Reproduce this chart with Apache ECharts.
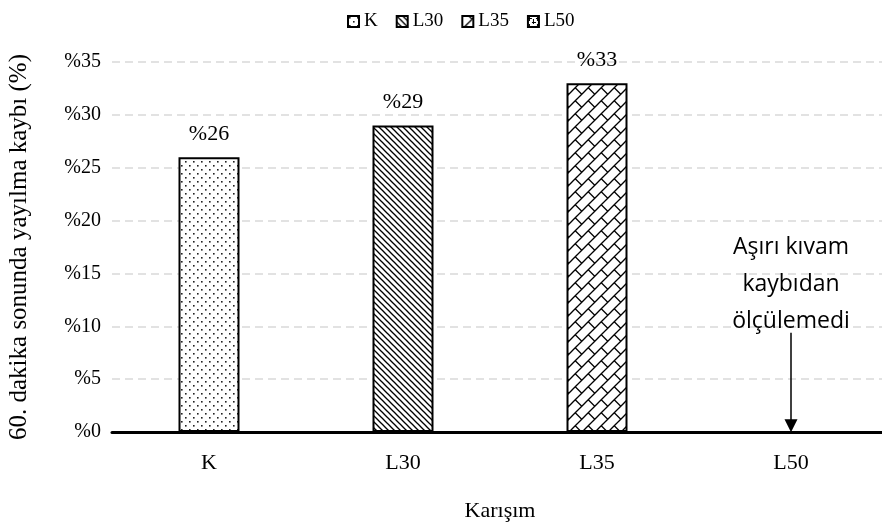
<!DOCTYPE html>
<html>
<head>
<meta charset="utf-8">
<script src="https://cdn.jsdelivr.net/npm/echarts@6/dist/echarts.min.js"></script>
<style>
  html, body { margin: 0; padding: 0; background: #fff; }
  #chart { width: 882px; height: 522px; }
</style>
</head>
<body>
<div id="chart"></div>
<script>
// Mixes and the spread loss measured after 60 minutes (%)
const categories = ['K', 'L30', 'L35', 'L50'];
const seriesNames = ['K', 'L30', 'L35', 'L50'];
const lossValues = [26, 29, 33, null];   // L50 could not be measured
const yMin = 0, yMax = 35, yStep = 5;
const noteLines = ['Aşırı kıvam', 'kaybıdan', 'ölçülemedi'];
const noteY = 14.0;          // where the note sits on the value axis
const arrowFrom = 9.4, arrowTo = 0.6;

// Fill patterns for each bar, drawn on small tiles
function tile(size, draw) {
  const c = document.createElement('canvas');
  c.width = size; c.height = size;
  const g = c.getContext('2d');
  g.fillStyle = '#fff';
  g.fillRect(0, 0, size, size);
  g.fillStyle = '#000';
  g.strokeStyle = '#000';
  draw(g, size);
  return c;
}
const patterns = {
  K: tile(8, (g) => {
    g.fillStyle = '#222';
    g.fillRect(1, 1, 1.6, 1.6);
    g.fillRect(5, 5, 1.6, 1.6);
  }),
  L30: tile(6, (g, s) => {
    g.lineWidth = 1.3;
    for (let o = -s; o <= s; o += s) {
      g.beginPath();
      g.moveTo(o - 1, -1);
      g.lineTo(o + s + 1, s + 1);
      g.stroke();
    }
  }),
  L35: tile(13, (g, s) => {
    g.lineWidth = 1.3;
    for (let o = -s; o <= s; o += s) {
      // rising diagonal
      g.beginPath();
      g.moveTo(o - 1, s + 1);
      g.lineTo(o + s + 1, -1);
      g.stroke();
    }
    const q = s / 4;
    for (let ox = -s; ox <= s; ox += s) {
      for (let oy = -s; oy <= s; oy += s) {
        // short crosspiece between neighbouring diagonals
        g.beginPath();
        g.moveTo(ox + q, oy + 3 * q);
        g.lineTo(ox + 3 * q, oy + 5 * q);
        g.stroke();
      }
    }
  }),
  L50: tile(8, (g) => {
    g.fillRect(1, 0, 1, 5);
    g.fillRect(5, 3, 1, 5);
    g.fillRect(0, 2, 4, 1);
    g.fillRect(4, 6, 4, 1);
  })
};

const serif = 'Liberation Serif, Times New Roman, serif';

const series = seriesNames.map((name, i) => ({
  name: name,
  type: 'bar',
  barWidth: 61,
  barGap: '-100%',
  data: categories.map((c, j) => (j === i && lossValues[i] != null ? lossValues[i] : '-')),
  itemStyle: {
    color: { image: patterns[name], repeat: 'repeat' },
    borderColor: '#000',
    borderWidth: 2
  },
  label: {
    show: true,
    position: 'top',
    distance: 12,
    formatter: (p) => '%' + p.value,
    color: '#000',
    fontFamily: serif,
    fontSize: 22
  }
}));

// note and arrow for the unmeasured mix
series[3].markPoint = {
  symbol: 'circle',
  symbolSize: 0,
  silent: true,
  data: [{ coord: ['L50', noteY] }],
  label: {
    show: true,
    position: 'inside',
    formatter: noteLines.join('\n'),
    color: '#000',
    fontFamily: 'Open Sans, Noto Sans, sans-serif',
    fontSize: 23,
    lineHeight: 37,
    align: 'center'
  }
};
series[3].markLine = {
  silent: true,
  symbol: ['none', 'triangle'],
  symbolSize: 13,
  label: { show: false },
  lineStyle: { color: '#000', width: 1.5, type: 'solid' },
  data: [[{ coord: ['L50', arrowFrom] }, { coord: ['L50', arrowTo] }]]
};

const chart = echarts.init(document.getElementById('chart'));
chart.setOption({
  animation: false,
  backgroundColor: '#fff',
  legend: {
    data: seriesNames,
    left: 342,
    top: 7,
    icon: 'rect',
    itemWidth: 11,
    itemHeight: 11,
    itemGap: 18,
    textStyle: { color: '#000', fontFamily: serif, fontSize: 19 }
  },
  grid: { left: 112, top: 62, width: 776, height: 370, outerBoundsMode: 'none' },
  xAxis: {
    type: 'category',
    data: categories,
    name: 'Karışım',
    nameLocation: 'middle',
    nameGap: 68,
    nameTextStyle: { color: '#000', fontFamily: serif, fontSize: 22 },
    axisLine: { lineStyle: { color: '#000', width: 3 } },
    axisTick: { show: false },
    axisLabel: { color: '#000', fontFamily: serif, fontSize: 22, margin: 20 }
  },
  yAxis: {
    type: 'value',
    min: yMin,
    max: yMax,
    interval: yStep,
    name: '60. dakika sonunda yayılma kaybı (%)',
    nameLocation: 'middle',
    nameRotate: 90,
    nameGap: 80,
    nameTextStyle: { color: '#000', fontFamily: serif, fontSize: 25 },
    axisLine: { show: false },
    axisTick: { show: false },
    axisLabel: {
      color: '#000', fontFamily: serif, fontSize: 20, margin: 11,
      formatter: (v) => '%' + v
    },
    splitLine: { lineStyle: { color: '#d9d9d9', width: 1.5, type: [8, 5] } }
  },
  series: series
});
</script>
</body>
</html>
